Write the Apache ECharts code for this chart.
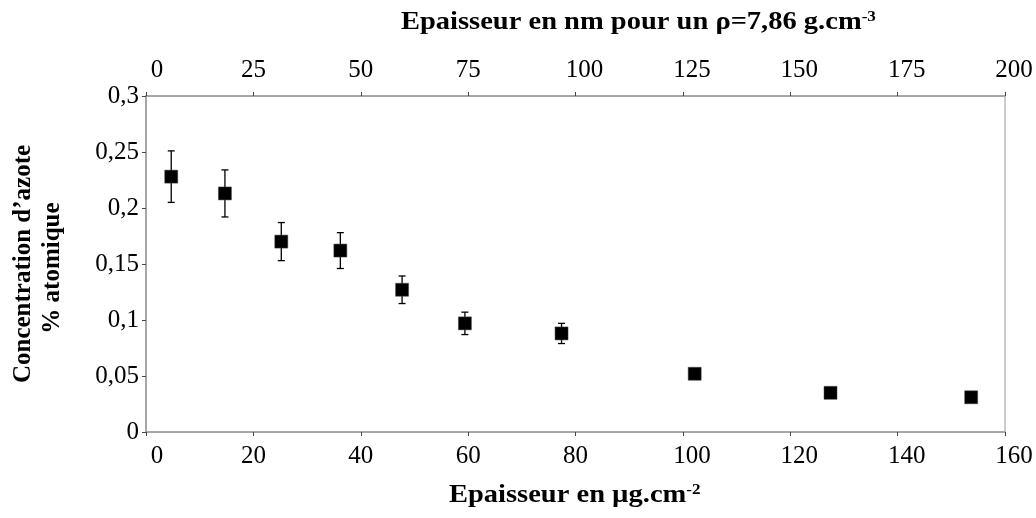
<!DOCTYPE html>
<html>
<head>
<meta charset="utf-8">
<script src="https://cdn.jsdelivr.net/npm/echarts@6/dist/echarts.min.js"></script>
<style>html,body{margin:0;padding:0;background:#fff}#c{width:1036px;height:518px}</style>
</head>
<body>
<div id="c"></div>
<script>
var thicknessUg = [4.7, 14.7, 25.2, 36.2, 47.7, 59.4, 77.4, 102.2, 127.5, 153.7];
var concentration = [0.228, 0.213, 0.170, 0.162, 0.127, 0.097, 0.088, 0.052, 0.035, 0.031];
var errorBar = [0.023, 0.021, 0.017, 0.016, 0.0123, 0.010, 0.009, 0, 0, 0];
var bottomTicks = [0, 20, 40, 60, 80, 100, 120, 140, 160];
var topTicks = [0, 25, 50, 75, 100, 125, 150, 175, 200];
var yTicks = ['0', '0,05', '0,1', '0,15', '0,2', '0,25', '0,3'];

var FONT = '"Liberation Serif", "Times New Roman", serif';
var pts = thicknessUg.map(function (x, i) { return [x, concentration[i]]; });
var errs = thicknessUg.map(function (x, i) { return [x, concentration[i] - errorBar[i], concentration[i] + errorBar[i]]; });

function tickFmt(list) {
  return function (v) {
    if (list.indexOf(v) < 0) return '';
    var s = String(v);
    if (s.length === 1) return '{p1|' + s + '}';
    if (s.length === 3) return '{p3|' + s + '}';
    return '{n|' + s + '}';
  };
}
var tokenBase = { fontFamily: FONT, fontSize: 25, color: '#000' };
var richTicks = {
  n: Object.assign({}, tokenBase),
  p1: Object.assign({ padding: [0, 0, 0, 22] }, tokenBase),
  p3: Object.assign({ padding: [0, 0, 0, 18] }, tokenBase)
};

var chart = echarts.init(document.getElementById('c'));
var axisLbl = { color: '#000', fontFamily: FONT, fontSize: 25 };
var lineSt = { show: true, lineStyle: { color: '#9a9a9a', width: 1.5 } };
var tickSt = { show: true, length: 4, inside: false, lineStyle: { color: '#444' } };
chart.setOption({
  animation: false,
  grid: { left: 146, right: 31, top: 96, bottom: 86, show: true, borderColor: '#9a9a9a', borderWidth: 1 },
  xAxis: [{
    type: 'value', position: 'bottom', min: 0, max: 160, interval: 20,
    axisLine: lineSt, axisTick: tickSt, splitLine: { show: false },
    axisLabel: Object.assign({ margin: 12, formatter: tickFmt(bottomTicks), rich: richTicks }, axisLbl)
  }, {
    type: 'value', position: 'top', min: 0, max: 200, interval: 25,
    axisLine: lineSt, axisTick: tickSt, splitLine: { show: false },
    axisLabel: Object.assign({ margin: 13, formatter: tickFmt(topTicks), rich: richTicks }, axisLbl)
  }],
  yAxis: {
    type: 'value', min: 0, max: 0.3, interval: 0.05,
    axisLine: lineSt, axisTick: tickSt, splitLine: { show: false },
    axisLabel: Object.assign({ margin: 7, formatter: function (v) { return yTicks[Math.round(v / 0.05)]; } }, axisLbl)
  },
  series: [{
    type: 'custom', xAxisIndex: 0, z: 2,
    renderItem: function (params, api) {
      var x = api.value(0), lo = api.value(1), hi = api.value(2);
      if (hi - lo <= 0) return;
      var pLo = api.coord([x, lo]), pHi = api.coord([x, hi]);
      var w = 3.5;
      var st = { stroke: '#000', lineWidth: 1.3 };
      return { type: 'group', children: [
        { type: 'line', shape: { x1: pLo[0], y1: pLo[1], x2: pHi[0], y2: pHi[1] }, style: st },
        { type: 'line', shape: { x1: pLo[0] - w, y1: pLo[1], x2: pLo[0] + w, y2: pLo[1] }, style: st },
        { type: 'line', shape: { x1: pHi[0] - w, y1: pHi[1], x2: pHi[0] + w, y2: pHi[1] }, style: st }
      ] };
    },
    data: errs
  }, {
    type: 'scatter', xAxisIndex: 0, z: 3,
    symbol: 'rect', symbolSize: 13,
    itemStyle: { color: '#000', borderColor: '#444', borderWidth: 0.5, opacity: 1 },
    data: pts
  }],
  graphic: [{
    type: 'text', x: 401, y: 23, scaleX: 1.14,
    style: {
      text: '{a|Epaisseur en nm pour un ρ=7,86 g.cm}{s|-3}',
      textAlign: 'left', textVerticalAlign: 'middle', x: 0, y: 0,
      rich: {
        a: { fontFamily: FONT, fontWeight: 'bold', fontSize: 25, fill: '#000', color: '#000' },
        s: { fontFamily: FONT, fontWeight: 'bold', fontSize: 15, fill: '#000', color: '#000', padding: [0, 0, 12, 0] }
      }
    }
  }, {
    type: 'text', x: 449, y: 496, scaleX: 1.14,
    style: {
      text: '{a|Epaisseur en µg.cm}{s|-2}',
      textAlign: 'left', textVerticalAlign: 'middle', x: 0, y: 0,
      rich: {
        a: { fontFamily: FONT, fontWeight: 'bold', fontSize: 25, fill: '#000', color: '#000' },
        s: { fontFamily: FONT, fontWeight: 'bold', fontSize: 15, fill: '#000', color: '#000', padding: [0, 0, 12, 0] }
      }
    }
  }, {
    type: 'text', x: 24, y: 264, rotation: Math.PI / 2,
    style: { text: 'Concentration d’azote', x: 0, y: 0, textAlign: 'center', textVerticalAlign: 'middle', fontFamily: FONT, fontWeight: 'bold', fontSize: 25, fill: '#000' }
  }, {
    type: 'text', x: 53, y: 268, rotation: Math.PI / 2,
    style: { text: '% atomique', x: 0, y: 0, textAlign: 'center', textVerticalAlign: 'middle', fontFamily: FONT, fontWeight: 'bold', fontSize: 25, fill: '#000' }
  }]
});
</script>
</body>
</html>
